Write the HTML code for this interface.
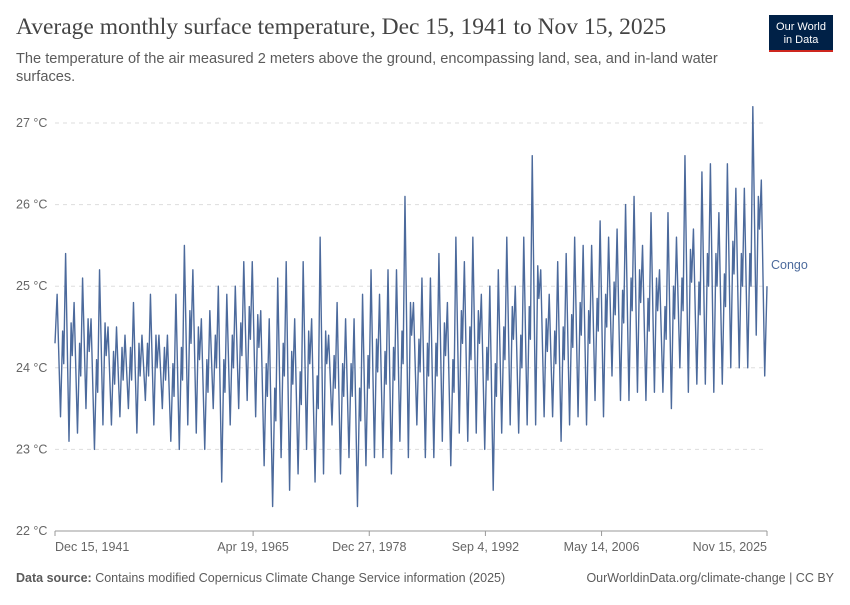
<!DOCTYPE html>
<html><head><meta charset="utf-8">
<style>
body{margin:0;background:#fff;width:850px;height:600px;overflow:hidden;font-family:"Liberation Sans",sans-serif}
</style></head>
<body>
<svg width="850" height="600" viewBox="0 0 850 600" xmlns="http://www.w3.org/2000/svg">
<text x="16" y="34" font-family="Liberation Serif,serif" font-size="23.5" fill="#444">Average monthly surface temperature, Dec 15, 1941 to Nov 15, 2025</text>
<text x="16" y="63" font-size="14.6" fill="#5b5b5b">The temperature of the air measured 2 meters above the ground, encompassing land, sea, and in-land water</text>
<text x="16" y="81" font-size="14.6" fill="#5b5b5b">surfaces.</text>
<g>
<rect x="769" y="15" width="64" height="37" fill="#002147"/>
<rect x="769" y="50" width="64" height="2" fill="#ce261e"/>
<text x="801" y="30" font-size="11" fill="#fff" text-anchor="middle">Our World</text>
<text x="801" y="43" font-size="11" fill="#fff" text-anchor="middle">in Data</text>
</g>
<g id="grid"></g>
<g id="xaxis"></g>
<path id="line" fill="none" stroke="#4c6a9c" stroke-width="1.4" stroke-linejoin="round"/>
<text x="771" y="269" font-size="12.5" fill="#4c6a9c">Congo</text>
<text x="16" y="582" font-size="12.5" fill="#5b5b5b"><tspan font-weight="bold">Data source:</tspan> Contains modified Copernicus Climate Change Service information (2025)</text>
<text x="834" y="582" font-size="12.5" fill="#5b5b5b" text-anchor="end">OurWorldinData.org/climate-change | CC BY</text>
</svg>
<script>
const years=[];for(let y=1942;y<=2025;y++)years.push(y);
const peaks=[24.9,25.4,24.8,25.1,24.6,25.2,24.5,24.5,24.4,24.8,24.4,24.9,24.4,24.4,24.9,25.5,25.2,24.6,24.7,25.0,24.9,25.0,25.3,25.3,24.7,24.6,25.1,25.3,24.6,25.3,24.6,25.6,24.4,24.8,24.6,24.6,24.9,25.2,24.9,25.2,25.2,26.1,24.8,25.1,25.1,25.4,24.8,25.6,25.3,25.6,24.9,25.0,25.2,25.6,25.0,25.6,26.6,25.2,24.9,25.3,25.4,25.6,25.5,25.5,25.8,25.6,25.7,26.0,26.1,25.5,25.9,25.2,25.9,25.6,26.6,25.7,26.4,26.5,25.9,26.5,26.2,26.2,27.2,26.3];
const troughs=[23.4,23.1,23.2,23.5,23.0,23.3,23.3,23.4,23.5,23.2,23.6,23.3,23.5,23.1,23.0,23.3,23.2,23.0,23.5,22.6,23.3,23.5,23.6,23.4,22.8,22.3,22.9,22.5,22.7,23.0,22.6,22.7,23.3,22.7,22.9,22.3,22.8,22.9,22.9,22.7,23.1,22.9,23.3,22.9,22.9,23.1,22.8,23.2,23.1,23.2,23.0,22.5,23.2,23.3,23.2,23.3,23.3,23.4,23.4,23.1,23.3,23.4,23.3,23.6,23.4,23.9,23.6,23.6,23.7,23.6,23.7,23.7,23.5,24.0,23.7,23.8,23.8,23.7,23.8,24.0,24.0,24.0,24.4,23.9];
const startValue=24.3, endValue=25.0;
const yTicks=[22,23,24,25,26,27];
const xTickLabels=["Dec 15, 1941","Apr 19, 1965","Dec 27, 1978","Sep 4, 1992","May 14, 2006","Nov 15, 2025"];
const xTickTimes=[1941.95,1965.3,1978.99,1992.68,2006.37,2025.87];
const t0=1941.95,t1=2025.87,x0=55,x1=767;
const X=t=>x0+(t-t0)/(t1-t0)*(x1-x0);
const Y=v=>531-(v-22)*81.6;
const NS="http://www.w3.org/2000/svg";
const grid=document.getElementById('grid');
yTicks.forEach(v=>{
 const l=document.createElementNS(NS,'line');
 
 
 l.setAttribute('x1',55);l.setAttribute('x2',767);l.setAttribute('y1',Y(v));l.setAttribute('y2',Y(v));
 l.setAttribute('stroke',v===22?'#999':'#ddd');
 if(v!==22)l.setAttribute('stroke-dasharray','4,4');
 grid.appendChild(l);
 const t=document.createElementNS(NS,'text');
 
 
 t.setAttribute('x',16);t.setAttribute('y',Y(v)+4);t.setAttribute('font-size','12.5');t.setAttribute('fill','#666');
 t.textContent=v+' °C';grid.appendChild(t);
});
const xa=document.getElementById('xaxis');
xTickLabels.forEach((s,i)=>{
 const x=X(xTickTimes[i]);
 const tk=document.createElementNS(NS,'line');
 
 
 tk.setAttribute('x1',x);tk.setAttribute('x2',x);tk.setAttribute('y1',531);tk.setAttribute('y2',536);tk.setAttribute('stroke','#999');
 xa.appendChild(tk);
 const t=document.createElementNS(NS,'text');
 
 
 t.setAttribute('x',x);
 t.setAttribute('text-anchor',i===0?'start':(i===xTickLabels.length-1?'end':'middle'));
 t.setAttribute('y',551);t.setAttribute('font-size','12.5');t.setAttribute('fill','#666');
 t.textContent=s;xa.appendChild(t);
});
let d='M'+X(t0)+','+Y(startValue);
years.forEach((yr,i)=>{
 d+=' L'+X(yr+0.2)+','+Y(peaks[i]);
 const tt=yr+0.6;
 if(tt<t1)d+=' L'+X(tt)+','+Y(troughs[i]);
 const mid=yr+0.85;
 if(mid<t1-0.05)d+=' L'+X(mid)+','+Y((peaks[i]+troughs[i])/2+0.3);
 const dip=yr+0.98;
 if(dip<t1-0.05)d+=' L'+X(dip)+','+Y((peaks[i]+troughs[i])/2-0.1);
});
d+=' L'+X(t1)+','+Y(endValue);
document.getElementById('line').setAttribute('d',d);
</script>
</body></html>
